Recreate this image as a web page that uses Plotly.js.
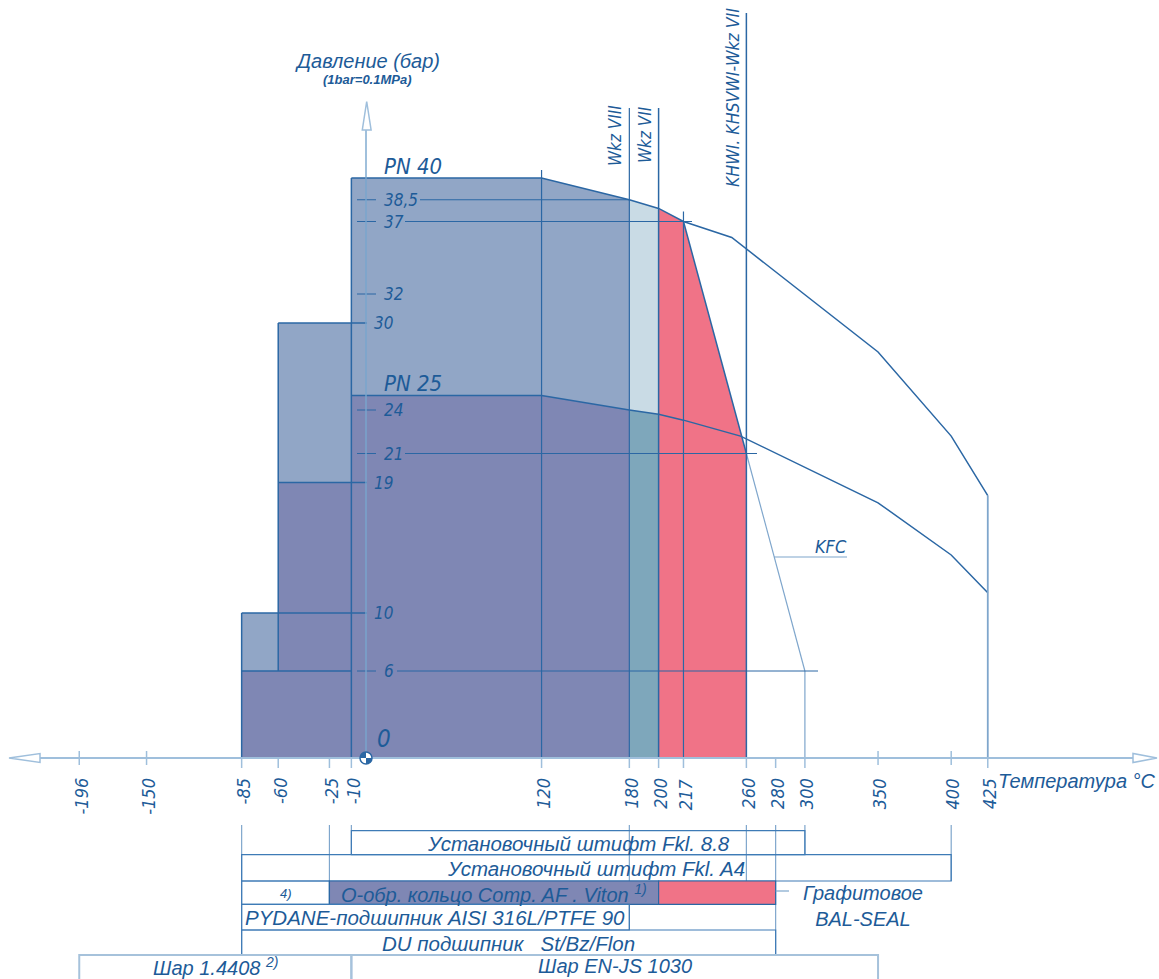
<!DOCTYPE html>
<html><head><meta charset="utf-8">
<script src="https://cdn.plot.ly/plotly-3.0.1.min.js"></script>
<style>html,body{margin:0;padding:0;background:#fff}#chart{width:1159px;height:979px}</style>
</head><body><div id="chart"></div>
<script>
// ================= DATA =================
const tempTicks = [-196,-150,-85,-60,-25,-10,120,180,200,217,260,280,300,350,400,425];
const pressureTicks = [38.5,37,32,30,24,21,19,10,6,0];
const pressureTickLabels = ['38,5','37','32','30','24','21','19','10','6','0'];
// PN 40 and PN 25 rating curves (temperature °C, pressure bar)
const pn40T = [-10,120,180,200,217,250,350,400,425];
const pn40P = [40,40,38.5,37.9,37,35.9,28,22.2,18.1];
const pn25T = [-10,120,180,200,217,256,350,400,425];
const pn25P = [25,25,24,23.7,23.3,22.2,17.6,14,11.4];
// low-temperature steps
const lowFrom = [-85,-60];
const lowTo   = [-60,-10];
const lowDark = [6,19];
const lowLight= [10,30];
// graphite seal / KFC limit line
const kfcT = [217,260,300];
const kfcP = [37,21,6];
// vertical labels
const vLabels = ['Wkz VIII','Wkz VII','KHWI. KHSVWI-Wkz VII'];
const curveLabels = ['PN 40','PN 25','KFC'];
// material table below the axis
const barRow   = [0,1,2,2,2,3,4,5,5];
const barFrom  = [-10,-85,-85,-25,200,-85,-85,-196,-10];
const barTo    = [300,400,-25,200,280,180,280,-10,350];
const barLabel = ['Установочный штифт Fkl. 8.8','Установочный штифт Fkl. A4','4)',
  'О-обр. кольцо Comp. AF . Viton <sup>1)</sup>','','PYDANE-подшипник AISI 316L/PTFE 90',
  'DU подшипник\u00a0\u00a0 St/Bz/Flon','Шар 1.4408 <sup>2)</sup>','Шар EN-JS 1030'];
const barKind  = ['plain','plain','note','seal','graphite','plain','plain','ball','ball'];
const graphiteLabel = 'Графитовое<br>BAL-SEAL';
const dropTemps = [-85,-25,-10,180,260,280,300,400];

// ================= LAYOUT / STYLE =================
const W=1159,H=979;
const X0=366, XS=1.463, Y0=758, YS=14.5;
const tx = px => (px-X0)/XS;
const py = p => (Y0-p)/YS;
const yp = p => 1-p/H;
const DARK='#7f87b4', LIGHT='#91a6c6', PALE='#c9dbe5', TEAL='#7ea7bb', RED='#f07387';
const LINE='#2b67a4', TEXT='#1d5b98', AXIS='#9fbfdc', THIN='#7fa6cc';
const NARROW='"Liberation Sans Narrow","Arial Narrow","DejaVu Sans Condensed",sans-serif';
const REG='"Liberation Sans",Arial,sans-serif';

const traces=[], shapes=[], ann=[];
function poly(xs,ys,color){traces.push({x:[...xs,xs[0]],y:[...ys,ys[0]],mode:'lines',fill:'toself',fillcolor:color,line:{width:0},hoverinfo:'skip',showlegend:false});}
function curve(xs,ys,color,w){traces.push({x:xs,y:ys,mode:'lines',line:{color:color,width:w},hoverinfo:'skip',showlegend:false});}
function seg(x0,y0,x1,y1,color,w){shapes.push({type:'line',xref:'x',yref:'y',x0,y0,x1,y1,line:{color,width:w}});}
function segP(x0,p0,x1,p1,color,w){shapes.push({type:'line',xref:'x',yref:'paper',x0,x1,y0:yp(p0),y1:yp(p1),line:{color,width:w}});}
function txt(text,x,y,o){o=o||{};ann.push({text,x,y,xref:'x',yref:'y',showarrow:false,
  xanchor:o.xanchor||'center',yanchor:o.yanchor||'middle',textangle:o.textangle||0,align:'center',
  font:{family:o.family||NARROW,size:o.size||18,color:TEXT,style:'italic',weight:o.weight||'normal'}});}

const i180=pn25T.indexOf(180), i200=pn25T.indexOf(200);
const j180=pn40T.indexOf(180), j200=pn40T.indexOf(200), j217=pn40T.indexOf(217);

// fills
poly([lowFrom[0],lowFrom[0],lowFrom[1],lowFrom[1],lowTo[1],...pn25T.slice(0,i180+1),180],
     [0,lowDark[0],lowDark[0],lowDark[1],lowDark[1],...pn25P.slice(0,i180+1),0],DARK);
poly([lowFrom[0],lowTo[0],lowTo[0],lowFrom[0]],[lowDark[0],lowDark[0],lowLight[0],lowLight[0]],LIGHT);
poly([lowFrom[1],lowTo[1],lowTo[1],lowFrom[1]],[lowDark[1],lowDark[1],lowLight[1],lowLight[1]],LIGHT);
poly([...pn25T.slice(0,i180+1),...pn40T.slice(0,j180+1).reverse()],[...pn25P.slice(0,i180+1),...pn40P.slice(0,j180+1).reverse()],LIGHT);
poly([180,...pn25T.slice(i180,i200+1),200],[0,...pn25P.slice(i180,i200+1),0],TEAL);
poly([...pn25T.slice(i180,i200+1),...pn40T.slice(j180,j200+1).reverse()],[...pn25P.slice(i180,i200+1),...pn40P.slice(j180,j200+1).reverse()],PALE);
poly([200,...pn40T.slice(j200,j217+1),kfcT[1],kfcT[1]],[0,...pn40P.slice(j200,j217+1),kfcP[1],0],RED);

// curves
curve(pn40T,pn40P,LINE,1.5);
curve(pn25T,pn25P,LINE,1.5);
curve(kfcT.slice(0,2),kfcP.slice(0,2),LINE,1.5);
curve(kfcT.slice(1),kfcP.slice(1),THIN,1.2);

// verticals
seg(lowFrom[0],0,lowFrom[0],lowLight[0],LINE,1.5);
seg(lowFrom[1],lowDark[0],lowFrom[1],lowLight[1],LINE,1.5);
seg(-10,0,-10,pn40P[0],LINE,1.5);
seg(120,0,120,py(170),LINE,1.2);
seg(180,0,180,py(108),LINE,1.2);
seg(200,0,200,py(108),LINE,1.5);
seg(217,0,217,py(211.5),LINE,1.2);
seg(260,0,260,py(13),LINE,1.5);
seg(kfcT[2],0,kfcT[2],kfcP[2],THIN,1.2);
seg(425,0,425,pn40P[pn40P.length-1],THIN,1.8);

// horizontal level lines
const tA=tx(357), tB=tx(376);
seg(lowFrom[0],lowLight[0],tx(367),lowLight[0],LINE,1.5);
seg(lowFrom[1],lowDark[1],tx(367),lowDark[1],LINE,1.5);
seg(lowFrom[1],lowLight[1],tx(367),lowLight[1],LINE,1.5);
seg(lowFrom[0],lowDark[0],-10,lowDark[0],LINE,1.5);
[38.5,37,32,24,21,6].forEach(p=>seg(tA,p,tB,p,LINE,1));
seg(tx(420),38.5,180,38.5,LINE,1);
seg(tx(405),37,tx(692),37,LINE,1);
seg(tx(405),21,tx(757),21,LINE,1);
seg(tx(397),6,tx(818),6,LINE,1);
// KFC leader
seg(tx(774),py(557),tx(847),py(557),THIN,1.2);

// axes
seg(tx(40),0,tx(1133),0,AXIS,2);
shapes.push({type:'line',xref:'x',yref:'y',x0:0,x1:0,y0:0,y1:py(130),line:{color:'rgba(120,165,205,0.7)',width:2}});
const arrow=(pts)=>{shapes.push({type:'path',xref:'x',yref:'y',path:'M'+pts.map(p=>tx(p[0])+','+py(p[1])).join(' L')+' Z',fillcolor:'#fff',line:{color:AXIS,width:1.5}});};
arrow([[9,758],[40,753.5],[40,762.5]]);
arrow([[1157,758],[1133,753.5],[1133,762.5]]);
arrow([[366.7,101.5],[362.3,130],[371.1,130]]);
tempTicks.forEach(t=>{const up=(t===350||t===400||t<=-150); seg(t,py(up?751:758),t,py(up?765:768),AXIS,1.5);});
// origin symbol
const rT=6/XS, rP=6/YS, k=0.5523;
shapes.push({type:'circle',xref:'x',yref:'y',x0:-rT,x1:rT,y0:-rP,y1:rP,fillcolor:'#fff',line:{color:LINE,width:1.5}});
shapes.push({type:'path',xref:'x',yref:'y',path:`M0,0 L${-rT},0 C${-rT},${k*rP} ${-k*rT},${rP} 0,${rP} Z`,fillcolor:LINE,line:{width:0}});
shapes.push({type:'path',xref:'x',yref:'y',path:`M0,0 L${rT},0 C${rT},${-k*rP} ${k*rT},${-rP} 0,${-rP} Z`,fillcolor:LINE,line:{width:0}});

// tick labels
tempTicks.forEach(t=>txt(String(t),t+1.2,py(776),{textangle:-90,yanchor:'top',size:18}));
pressureTicks.forEach((p,i)=>{
  const lab=pressureTickLabels[i];
  if(p===0){txt(lab,tx(384),py(739),{size:24});return;}
  const near=(p===30||p===19||p===10);
  txt(lab,tx(near?372:382),p,{xanchor:'left',size:17});
});
txt(curveLabels[0],tx(382),py(166),{xanchor:'left',size:22});
txt(curveLabels[1],tx(382),py(383),{xanchor:'left',size:22});
txt(curveLabels[2],tx(831),py(546),{size:18});
txt(vLabels[0],tx(615),py(136),{textangle:-90,size:17});
txt(vLabels[1],tx(645),py(135),{textangle:-90,size:17});
txt(vLabels[2],tx(733),py(98),{textangle:-90,size:17.5});
// titles
txt('Давление (бар)',tx(367),py(61),{family:REG,size:20});
txt('(1bar=0.1MPa)',tx(367),py(79),{family:REG,size:13,weight:'bold'});
txt('Температура °C',tx(1077),py(781),{family:REG,size:20});

// table
const rowTop=[830.7,854.7,881,904.3,930,955];
const rowBot=[854.7,881,904.3,930,955,995];
const dropEnd={'-85':955,'-25':904.3,'-10':854.7,'180':930,'260':881,'280':955,'300':854.7,'400':881};
dropTemps.forEach(t=>segP(t,825,t,dropEnd[String(t)],THIN,1.2));
barRow.forEach((r,i)=>{
  const kind=barKind[i];
  const fill= kind==='seal'?DARK:(kind==='graphite'?RED:'rgba(0,0,0,0)');
  const col = kind==='ball'?'#a6c2db':(kind==='seal'||kind==='graphite'?LINE:'#3e7bb6');
  shapes.push({type:'rect',xref:'x',yref:'paper',x0:barFrom[i],x1:barTo[i],y0:yp(rowBot[r]),y1:yp(rowTop[r]),fillcolor:fill,line:{color:col,width:kind==='ball'?2:1.2}});
  if(barLabel[i]){
    const yc = kind==='ball'? 966 : (rowTop[r]+rowBot[r])/2+0.5;
    const sz = kind==='note'?13:((kind==='seal'||kind==='ball')?20:20.5);
    ann.push({text:barLabel[i],x:(barFrom[i]+barTo[i])/2,y:yp(yc),xref:'x',yref:'paper',showarrow:false,xanchor:'center',yanchor:'middle',
      font:{family:REG,size:sz,color:TEXT,style:'italic'}});
  }
});
segP(280,891,tx(789),891,THIN,1.2);
ann.push({text:graphiteLabel,x:tx(863),y:yp(906),xref:'x',yref:'paper',showarrow:false,xanchor:'center',yanchor:'middle',align:'center',
  font:{family:REG,size:20,color:TEXT,style:'italic'}});

const layout={width:W,height:H,margin:{l:0,r:0,t:0,b:0},paper_bgcolor:'#fff',plot_bgcolor:'#fff',showlegend:false,
  xaxis:{range:[tx(0),tx(W)],visible:false,fixedrange:true},
  yaxis:{range:[py(H),py(0)],visible:false,fixedrange:true},
  shapes,annotations:ann};
Plotly.newPlot('chart',traces,layout,{staticPlot:true,displayModeBar:false});
</script></body></html>
